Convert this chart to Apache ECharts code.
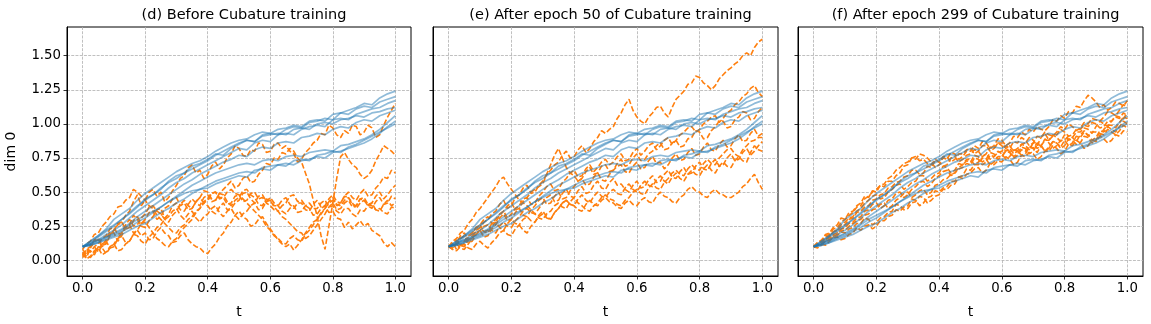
<!DOCTYPE html>
<html><head><meta charset="utf-8">
<script src="https://cdn.jsdelivr.net/npm/echarts@6/dist/echarts.min.js"></script>
<style>html,body{margin:0;padding:0;background:#fff}#c{width:1151px;height:324px}</style>
</head><body><div id="c"></div>
<script>
const T41 = [0,0.025,0.05,0.075,0.1,0.125,0.15,0.175,0.2,0.225,0.25,0.275,0.3,0.325,0.35,0.375,0.4,0.425,0.45,0.475,0.5,0.525,0.55,0.575,0.6,0.625,0.65,0.675,0.7,0.725,0.75,0.775,0.8,0.825,0.85,0.875,0.9,0.925,0.95,0.975,1];
const T81 = [0,0.0125,0.025,0.0375,0.05,0.0625,0.075,0.0875,0.1,0.1125,0.125,0.1375,0.15,0.1625,0.175,0.1875,0.2,0.2125,0.225,0.2375,0.25,0.2625,0.275,0.2875,0.3,0.3125,0.325,0.3375,0.35,0.3625,0.375,0.3875,0.4,0.4125,0.425,0.4375,0.45,0.4625,0.475,0.4875,0.5,0.5125,0.525,0.5375,0.55,0.5625,0.575,0.5875,0.6,0.6125,0.625,0.6375,0.65,0.6625,0.675,0.6875,0.7,0.7125,0.725,0.7375,0.75,0.7625,0.775,0.7875,0.8,0.8125,0.825,0.8375,0.85,0.8625,0.875,0.8875,0.9,0.9125,0.925,0.9375,0.95,0.9625,0.975,0.9875,1];
const titles = ['(d) Before Cubature training','(e) After epoch 50 of Cubature training','(f) After epoch 299 of Cubature training'];
const xTicks = [0,0.2,0.4,0.6,0.8,1.0];
const yTicks = [0,0.25,0.5,0.75,1.0,1.25,1.5];

// target (blue) paths on T41, shared by all three panels
const bluePaths = [
 [.10,.12,.17,.21,.25,.30,.34,.39,.45,.48,.52,.58,.62,.64,.69,.71,.74,.78,.77,.82,.85,.88,.87,.92,.93,.92,.96,.98,.97,1.01,1.02,1.04,1.03,1.08,1.10,1.12,1.15,1.14,1.19,1.22,1.24],
 [.10,.14,.18,.23,.30,.34,.38,.44,.49,.53,.57,.61,.65,.68,.71,.73,.76,.80,.83,.86,.88,.89,.92,.94,.93,.96,.97,.99,.98,1.02,1.03,1.02,1.07,1.08,1.07,1.11,1.13,1.12,1.16,1.18,1.20],
 [.10,.12,.15,.19,.22,.26,.31,.36,.40,.44,.48,.53,.57,.60,.64,.67,.70,.73,.76,.79,.82,.81,.86,.88,.87,.92,.93,.92,.96,.98,.99,.98,1.03,1.04,1.03,1.07,1.09,1.11,1.12,1.15,1.17],
 [.10,.14,.18,.22,.26,.30,.35,.40,.44,.48,.53,.57,.60,.64,.67,.70,.73,.77,.80,.83,.86,.88,.87,.91,.92,.93,.92,.96,.97,.96,1.00,1.01,1.00,1.03,1.04,1.06,1.05,1.08,1.09,1.11,1.12],
 [.10,.12,.14,.17,.20,.23,.27,.32,.36,.40,.44,.48,.52,.56,.59,.63,.66,.69,.72,.74,.77,.76,.81,.83,.82,.86,.87,.86,.90,.91,.93,.92,.96,.98,.97,1.01,1.03,1.02,1.06,1.08,1.10],
 [.10,.11,.13,.16,.18,.21,.24,.28,.31,.35,.39,.43,.47,.51,.55,.58,.61,.64,.66,.68,.70,.71,.70,.73,.74,.73,.76,.77,.76,.79,.80,.81,.80,.84,.85,.87,.89,.92,.96,1.01,1.06],
 [.10,.11,.13,.15,.17,.19,.22,.25,.27,.31,.35,.38,.42,.45,.49,.52,.55,.58,.60,.62,.64,.65,.64,.68,.69,.70,.69,.73,.74,.73,.77,.78,.80,.79,.83,.85,.88,.91,.94,.97,1.00],
 [.10,.13,.15,.17,.19,.22,.26,.30,.33,.36,.39,.43,.46,.49,.51,.52,.53,.56,.58,.60,.62,.61,.66,.67,.66,.70,.71,.70,.73,.74,.76,.75,.79,.80,.82,.84,.86,.89,.93,.98,1.02]
];

// model (orange) paths on T81, panel (d)
const orangeD = [
 [.05,.02,.09,.14,.15,.10,.13,.19,.22,.27,.28,.33,.36,.43,.48,.40,.44,.50,.52,.47,.50,.43,.46,.51,.55,.60,.62,.68,.70,.64,.66,.60,.63,.69,.72,.67,.70,.75,.78,.84,.82,.77,.76,.81,.80,.86,.85,.79,.80,.85,.86,.82,.84,.80,.78,.72,.74,.79,.82,.86,.88,.93,.92,.99,.97,.92,.90,.95,.93,.99,.98,.92,.94,.99,.97,.90,.92,.99,1.05,1.10,1.15],
 [.08,.04,.12,.10,.06,.11,.15,.21,.20,.14,.18,.24,.26,.33,.30,.25,.24,.29,.32,.37,.38,.31,.34,.40,.42,.37,.36,.41,.45,.42,.40,.46,.48,.43,.44,.49,.52,.55,.58,.53,.55,.60,.62,.57,.58,.63,.66,.71,.70,.75,.74,.79,.78,.82,.80,.75,.72,.64,.56,.44,.32,.18,.08,.25,.42,.60,.76,.79,.74,.70,.68,.63,.60,.62,.66,.73,.78,.84,.82,.80,.77],
 [.03,.08,.07,.04,.10,.09,.05,.09,.12,.16,.18,.13,.14,.19,.22,.18,.20,.15,.16,.21,.24,.20,.18,.13,.14,.18,.20,.15,.12,.10,.09,.06,.05,.09,.12,.17,.20,.25,.28,.33,.36,.32,.30,.25,.26,.30,.32,.27,.23,.19,.15,.12,.10,.12,.075,.11,.15,.20,.24,.28,.30,.35,.38,.43,.46,.40,.42,.47,.50,.46,.44,.49,.52,.47,.48,.53,.56,.61,.60,.66,.64],
 [.06,.03,.02,.06,.08,.12,.14,.09,.10,.16,.20,.24,.26,.20,.22,.27,.30,.35,.36,.30,.32,.38,.40,.45,.46,.40,.42,.37,.38,.43,.46,.51,.50,.45,.44,.49,.48,.43,.40,.44,.46,.51,.52,.48,.46,.41,.40,.45,.44,.39,.36,.40,.42,.47,.48,.43,.44,.40,.38,.33,.34,.38,.40,.35,.36,.31,.30,.24,.28,.23,.26,.29,.25,.27,.22,.20,.18,.13,.10,.13,.10],
 [.04,.08,.10,.15,.16,.11,.12,.18,.22,.26,.28,.23,.24,.29,.32,.27,.28,.24,.20,.16,.14,.11,.10,.14,.16,.21,.24,.27,.30,.35,.38,.43,.45,.49,.50,.45,.46,.41,.42,.47,.48,.43,.44,.49,.50,.45,.46,.42,.40,.37,.36,.32,.30,.27,.24,.21,.20,.16,.18,.22,.26,.30,.34,.39,.42,.37,.38,.42,.44,.39,.40,.45,.46,.41,.42,.47,.50,.45,.48,.52,.55],
 [.02,.07,.06,.10,.12,.16,.18,.23,.24,.19,.20,.26,.30,.25,.26,.31,.34,.39,.40,.36,.34,.30,.28,.33,.36,.41,.44,.40,.38,.43,.46,.42,.40,.36,.34,.39,.42,.37,.38,.42,.44,.49,.50,.45,.42,.47,.48,.43,.44,.40,.40,.44,.46,.41,.38,.42,.42,.37,.36,.41,.44,.39,.40,.45,.48,.43,.42,.47,.46,.41,.40,.45,.44,.40,.38,.43,.46,.41,.42,.47,.45],
 [.05,.01,.03,.07,.09,.04,.06,.10,.12,.07,.08,.12,.14,.19,.18,.14,.12,.17,.20,.24,.26,.30,.32,.36,.38,.33,.30,.34,.36,.31,.28,.32,.34,.38,.40,.35,.32,.36,.38,.33,.30,.34,.36,.40,.42,.37,.38,.43,.46,.42,.40,.36,.34,.38,.40,.35,.36,.40,.42,.38,.38,.42,.44,.39,.40,.36,.34,.38,.38,.34,.32,.37,.36,.40,.42,.37,.38,.35,.34,.39,.38],
 [.08,.12,.14,.19,.20,.25,.28,.32,.34,.39,.40,.44,.46,.52,.50,.47,.44,.40,.38,.33,.30,.27,.24,.21,.20,.24,.26,.30,.32,.36,.38,.42,.44,.49,.50,.46,.46,.50,.52,.49,.48,.45,.42,.39,.36,.33,.30,.25,.22,.18,.16,.13,.12,.16,.18,.15,.14,.19,.22,.26,.30,.34,.38,.42,.44,.41,.40,.44,.46,.42,.38,.42,.44,.41,.40,.37,.36,.41,.44,.40,.42]
];

// model (orange) paths on T81, panel (e)
const orangeE = [
 [.10,.08,.13,.18,.20,.15,.16,.22,.24,.28,.30,.34,.36,.41,.44,.38,.40,.46,.48,.53,.55,.49,.50,.55,.58,.63,.66,.70,.72,.77,.80,.75,.76,.81,.84,.79,.82,.87,.90,.95,.93,.96,.98,1.04,1.08,1.14,1.18,1.10,1.05,1.02,1.00,1.05,1.08,1.12,1.13,1.08,1.05,1.12,1.18,1.21,1.24,1.29,1.30,1.35,1.34,1.30,1.28,1.25,1.28,1.33,1.36,1.39,1.41,1.44,1.46,1.50,1.52,1.50,1.56,1.60,1.62],
 [.10,.13,.08,.11,.14,.18,.20,.24,.26,.21,.22,.27,.30,.34,.36,.31,.34,.38,.40,.45,.46,.41,.42,.47,.50,.54,.56,.51,.52,.57,.60,.64,.66,.61,.62,.67,.70,.65,.68,.72,.74,.70,.72,.76,.78,.73,.74,.79,.82,.77,.80,.84,.86,.81,.84,.88,.90,.85,.88,.92,.94,.97,.98,.94,.96,1.00,1.02,1.05,1.06,1.01,1.04,1.08,1.10,1.14,1.16,1.20,1.22,1.26,1.28,1.23,1.20],
 [.10,.12,.15,.11,.12,.17,.20,.24,.26,.30,.32,.27,.28,.33,.36,.40,.42,.37,.38,.43,.46,.50,.52,.54,.56,.63,.70,.77,.82,.75,.68,.64,.62,.58,.60,.65,.68,.63,.64,.69,.70,.65,.66,.71,.74,.69,.70,.75,.78,.73,.74,.78,.80,.84,.86,.81,.82,.86,.88,.83,.84,.89,.90,.95,.94,.89,.90,.95,.98,1.02,1.02,.97,.98,1.03,1.05,1.09,1.08,1.03,1.04,1.09,1.12],
 [.10,.09,.12,.16,.18,.13,.14,.19,.22,.17,.18,.23,.26,.31,.34,.29,.30,.35,.38,.33,.32,.37,.40,.44,.46,.41,.42,.47,.50,.45,.46,.51,.54,.58,.60,.55,.56,.61,.64,.59,.58,.63,.66,.69,.70,.65,.64,.69,.72,.67,.68,.73,.76,.71,.72,.67,.70,.75,.78,.73,.74,.79,.82,.77,.78,.83,.86,.81,.80,.85,.88,.83,.84,.89,.92,.87,.88,.93,.96,.91,.93],
 [.10,.14,.16,.20,.22,.27,.30,.35,.38,.42,.46,.50,.54,.59,.61,.56,.52,.48,.44,.42,.40,.37,.34,.38,.42,.46,.48,.43,.44,.49,.52,.47,.46,.51,.54,.49,.50,.55,.58,.53,.52,.57,.60,.55,.56,.52,.50,.55,.58,.53,.54,.59,.62,.57,.58,.63,.66,.61,.60,.65,.68,.63,.64,.69,.72,.67,.66,.71,.74,.69,.70,.75,.78,.73,.74,.79,.82,.77,.80,.84,.87],
 [.10,.08,.07,.10,.12,.09,.08,.12,.14,.11,.09,.13,.16,.20,.22,.19,.18,.23,.26,.30,.32,.29,.28,.33,.36,.32,.30,.35,.38,.42,.44,.41,.40,.45,.48,.44,.42,.47,.50,.47,.46,.50,.52,.49,.48,.53,.56,.52,.50,.55,.58,.55,.54,.59,.62,.58,.56,.61,.64,.60,.58,.63,.66,.63,.62,.67,.70,.66,.64,.69,.72,.69,.68,.73,.76,.73,.72,.79,.84,.81,.80],
 [.10,.12,.14,.11,.10,.15,.18,.22,.24,.21,.20,.25,.28,.24,.22,.27,.30,.27,.26,.22,.20,.25,.28,.32,.34,.31,.30,.35,.38,.42,.44,.41,.40,.37,.36,.41,.44,.41,.40,.44,.46,.43,.42,.39,.38,.42,.44,.41,.40,.44,.46,.43,.42,.47,.50,.47,.46,.43,.42,.46,.48,.52,.54,.51,.50,.47,.46,.50,.52,.49,.48,.46,.46,.48,.50,.54,.56,.60,.63,.57,.52],
 [.10,.11,.12,.09,.08,.12,.16,.20,.22,.25,.26,.22,.20,.25,.28,.25,.24,.29,.32,.36,.38,.35,.34,.31,.30,.34,.36,.40,.42,.39,.38,.43,.46,.42,.40,.37,.36,.40,.42,.46,.48,.45,.44,.41,.40,.44,.46,.50,.52,.49,.48,.53,.56,.53,.52,.57,.60,.64,.66,.63,.62,.67,.70,.67,.66,.71,.74,.71,.70,.75,.78,.81,.82,.78,.76,.81,.84,.87,.88,.90,.90]
];

// model (orange) paths on T81, panel (f)
const orangeF = [
 [.10,.13,.14,.19,.20,.24,.26,.31,.30,.35,.36,.40,.42,.47,.46,.51,.50,.55,.54,.58,.58,.62,.64,.69,.70,.75,.74,.78,.77,.75,.72,.68,.70,.75,.74,.79,.78,.74,.76,.80,.80,.84,.82,.87,.86,.82,.84,.89,.88,.84,.86,.91,.90,.94,.92,.96,.94,.98,.96,.95,.98,1.03,1.02,1.06,1.04,1.09,1.08,1.13,1.12,1.17,1.21,1.19,1.16,1.12,1.14,1.10,1.12,1.16,1.15,1.13,1.17],
 [.10,.09,.12,.15,.17,.21,.22,.25,.26,.30,.31,.35,.36,.39,.40,.44,.45,.48,.49,.53,.54,.57,.58,.61,.62,.66,.66,.63,.64,.69,.68,.73,.72,.69,.70,.75,.76,.72,.74,.77,.78,.81,.80,.76,.78,.83,.82,.86,.84,.80,.82,.87,.86,.90,.88,.84,.86,.91,.90,.94,.92,.91,.94,.98,.96,1.00,.98,.95,.97,1.01,1.00,1.04,1.03,1.02,1.05,1.09,1.08,1.06,1.10,1.14,1.12],
 [.10,.12,.13,.16,.16,.19,.20,.23,.24,.27,.28,.31,.32,.36,.37,.41,.42,.38,.40,.44,.45,.49,.50,.46,.48,.52,.54,.57,.58,.54,.56,.60,.62,.65,.66,.62,.64,.68,.70,.74,.74,.70,.72,.76,.78,.74,.76,.79,.80,.84,.82,.78,.80,.85,.84,.81,.86,.82,.84,.88,.88,.92,.90,.87,.92,.88,.90,.94,.94,.97,.96,.93,.98,1.02,1.00,.98,1.02,1.06,1.05,1.04,1.08],
 [.10,.11,.12,.11,.14,.17,.17,.15,.16,.19,.20,.24,.22,.25,.26,.23,.25,.29,.29,.32,.33,.37,.36,.39,.40,.45,.44,.40,.42,.46,.47,.51,.50,.53,.54,.58,.58,.61,.62,.67,.66,.70,.70,.75,.74,.70,.72,.76,.76,.80,.79,.75,.77,.81,.80,.84,.82,.79,.84,.80,.83,.87,.86,.83,.88,.91,.90,.87,.92,.95,.91,.94,.94,.91,.96,.99,.99,.97,1.01,1.05,1.04],
 [.10,.13,.14,.17,.18,.21,.22,.26,.28,.31,.32,.36,.38,.42,.44,.47,.48,.45,.46,.50,.52,.55,.56,.52,.54,.57,.58,.62,.62,.58,.60,.63,.64,.69,.68,.64,.66,.71,.70,.73,.72,.77,.76,.72,.74,.79,.78,.74,.76,.81,.80,.76,.78,.83,.82,.78,.80,.85,.84,.89,.86,.82,.84,.88,.88,.84,.86,.91,.90,.94,.92,.88,.90,.95,.94,.98,.96,.94,.98,1.02,1.00],
 [.10,.12,.11,.14,.15,.18,.19,.22,.22,.25,.27,.29,.30,.33,.34,.37,.38,.41,.42,.38,.40,.44,.46,.49,.50,.46,.48,.51,.52,.48,.50,.55,.56,.59,.60,.63,.64,.67,.68,.71,.70,.75,.74,.70,.72,.77,.76,.80,.78,.74,.76,.81,.80,.77,.78,.83,.82,.86,.84,.80,.82,.87,.86,.82,.84,.89,.88,.85,.86,.91,.90,.86,.88,.93,.92,.96,.94,.92,.95,.99,.97],
 [.10,.11,.12,.14,.15,.17,.18,.21,.20,.23,.24,.27,.27,.31,.30,.26,.28,.31,.32,.35,.36,.41,.40,.37,.38,.42,.43,.47,.46,.42,.44,.47,.48,.52,.52,.55,.56,.61,.60,.63,.64,.67,.68,.64,.66,.71,.70,.73,.72,.76,.74,.70,.72,.77,.76,.79,.78,.74,.76,.80,.80,.84,.82,.78,.80,.85,.84,.88,.86,.82,.84,.88,.87,.91,.89,.86,.88,.92,.91,.95,.94],
 [.10,.13,.15,.18,.19,.23,.24,.28,.30,.33,.35,.39,.40,.45,.47,.50,.52,.55,.56,.60,.62,.66,.68,.71,.72,.75,.76,.73,.74,.71,.70,.74,.72,.76,.76,.72,.74,.78,.78,.81,.82,.78,.80,.84,.84,.80,.82,.86,.86,.82,.84,.80,.82,.85,.86,.90,.88,.84,.90,.93,.88,.91,.92,.96,.94,.91,.92,.96,.96,.99,.98,1.01,1.00,.97,.98,1.02,1.02,1.05,1.04,1.08,1.06]
];

const FONT = 'DejaVu Sans';
const BLUE = '#1f77b4', ORANGE = '#ff7f0e';
const gridBoxes = [{left:67,width:344},{left:433,width:345},{left:798,width:345}];
const TOP = 27, HEIGHT = 249;
const orangeSets = [orangeD, orangeE, orangeF];

const pair = (v, ts) => v.map((y,i)=>[ts[i], y]);
const grid = [], xAxis = [], yAxis = [], series = [], title = [];
const gridLine = {show:true, lineStyle:{color:'#b0b0b0', width:0.8, type:[2.96,1.28]}};
gridBoxes.forEach((g, k) => {
  grid.push({left:g.left, top:TOP, width:g.width, height:HEIGHT, show:true, borderColor:'#000', borderWidth:1, backgroundColor:'transparent'});
  title.push({text:titles[k], left:g.left + g.width/2, top:3, textAlign:'center',
    textStyle:{fontFamily:FONT, fontSize:14.5, fontWeight:'normal', color:'#000'}});
  xAxis.push({type:'value', gridIndex:k, min:-0.05, max:1.05,
    name:'t', nameLocation:'middle', nameGap:29,
    nameTextStyle:{fontFamily:FONT, fontSize:14, color:'#000'},
    axisLine:{show:true, onZero:false, lineStyle:{color:'#000', width:1}},
    axisTick:{show:true, length:3.5, customValues:xTicks, lineStyle:{color:'#000', width:0.8}},
    axisLabel:{show:true, customValues:xTicks, margin:6, fontFamily:FONT, fontSize:13.3, color:'#000', formatter:v=>v.toFixed(1)},
    splitLine:gridLine
  });
  yAxis.push({type:'value', gridIndex:k, min:-0.115, max:1.71,
    name: k===0 ? 'dim 0' : '', nameLocation:'middle', nameGap:49,
    nameTextStyle:{fontFamily:FONT, fontSize:14, color:'#000'},
    axisLine:{show:true, onZero:false, lineStyle:{color:'#000', width:1}},
    axisTick:{show:true, length:3.5, customValues:yTicks, lineStyle:{color:'#000', width:0.8}},
    axisLabel:{show:k===0, customValues:yTicks, margin:6, fontFamily:FONT, fontSize:13.3, color:'#000', formatter:v=>v.toFixed(2)},
    splitLine:gridLine
  });
  orangeSets[k].forEach(p => series.push({type:'line', xAxisIndex:k, yAxisIndex:k, data:pair(p, T81),
    showSymbol:false, symbol:'none', silent:true, z:2,
    lineStyle:{color:ORANGE, width:1.6, type:[5.5,2.4], opacity:1}}));
  bluePaths.forEach(p => series.push({type:'line', xAxisIndex:k, yAxisIndex:k, data:pair(p, T41),
    showSymbol:false, symbol:'none', silent:true, z:3,
    lineStyle:{color:BLUE, width:1.7, opacity:0.5}}));
});

const chart = echarts.init(document.getElementById('c'), null, {renderer:'canvas'});
chart.setOption({animation:false, backgroundColor:'#fff', title, grid, xAxis, yAxis, series});
</script>
</body></html>
